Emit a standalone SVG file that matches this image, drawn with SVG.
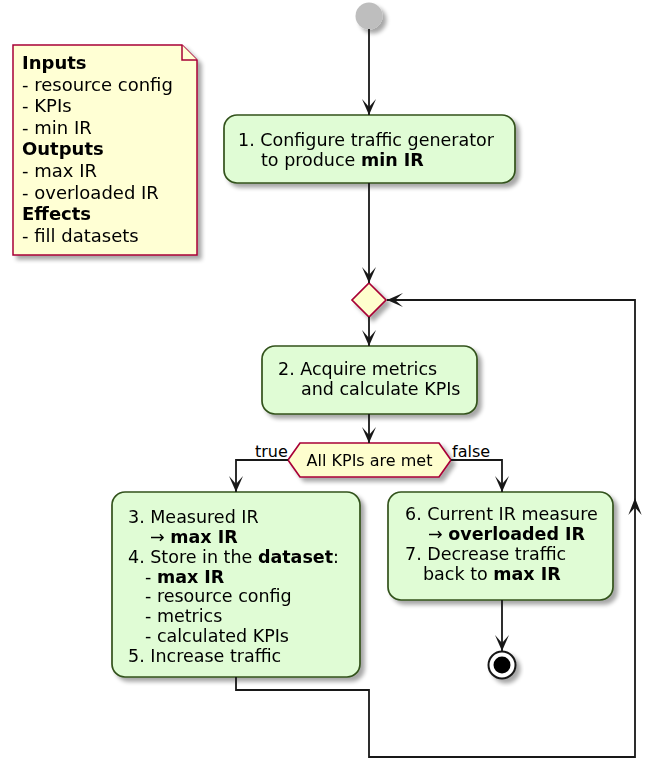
<svg xmlns="http://www.w3.org/2000/svg" width="656" height="762" viewBox="0 0 656 762">
<style>
text{font-family:"DejaVu Sans","Liberation Sans",sans-serif;fill:#000}
.t{font-size:17.5px}
.n{font-size:18px}
.s{font-size:16px}
.b{font-weight:bold}
.act{fill:#E0FCD5;stroke:#33521C;stroke-width:1.7}
.dia{fill:#FEFECE;stroke:#A80036;stroke-width:1.7}
.note{fill:#FFFFD4;stroke:#A80036;stroke-width:1.5}
.ln{fill:none;stroke:#181818;stroke-width:1.8}
</style>
<defs>
<filter id="sh" x="-20%" y="-20%" width="150%" height="150%">
<feGaussianBlur in="SourceAlpha" stdDeviation="2"/>
<feOffset dx="4" dy="4" result="o"/>
<feComponentTransfer><feFuncA type="linear" slope="0.35"/></feComponentTransfer>
<feMerge><feMergeNode/><feMergeNode in="SourceGraphic"/></feMerge>
</filter>
<marker id="ah" viewBox="-17 -9 19 18" refX="0" refY="0" markerWidth="19" markerHeight="18" markerUnits="userSpaceOnUse" orient="auto">
<path d="M0,0 L-16,-7 L-8,0 L-16,7 Z" fill="#181818"/>
</marker>
</defs>

<g id="note" filter="url(#sh)">
<path class="note" d="M13,45 L182,45 L197,60 L197,255 L13,255 Z"/>
<path class="note" d="M182,45 L182,60 L197,60" fill="none"/>
<text class="n b" x="22" y="69">Inputs</text>
<text class="n" x="22" y="90.6">- resource config</text>
<text class="n" x="22" y="112.2">- KPIs</text>
<text class="n" x="22" y="133.8">- min IR</text>
<text class="n b" x="22" y="155.4">Outputs</text>
<text class="n" x="22" y="177">- max IR</text>
<text class="n" x="22" y="198.6">- overloaded IR</text>
<text class="n b" x="22" y="220.2">Effects</text>
<text class="n" x="22" y="241.8">- fill datasets</text>
</g>

<g id="start" filter="url(#sh)">
<circle cx="369" cy="16" r="13.5" fill="#BEBEBE"/>
</g>

<g id="step1" filter="url(#sh)">
<rect class="act" x="224" y="115" width="291" height="68" rx="13"/>
<text class="t" x="238" y="146">1. Configure traffic generator</text>
<text class="t" x="261" y="166">to produce <tspan class="b">min IR</tspan></text>
</g>

<g id="merge" filter="url(#sh)">
<polygon class="dia" points="369,283 386,300 369,317 352,300"/>
</g>

<g id="step2" filter="url(#sh)">
<rect class="act" x="262" y="346" width="215" height="68" rx="13"/>
<text class="t" x="278" y="375">2. Acquire metrics</text>
<text class="t" x="301" y="395">and calculate KPIs</text>
</g>

<g id="decision" filter="url(#sh)">
<polygon class="dia" points="288,460 300,443 439,443 451,460 439,477 300,477"/>
<text class="s" x="369.5" y="466" text-anchor="middle">All KPIs are met</text>
</g>

<g id="step3" filter="url(#sh)">
<rect class="act" x="112" y="492" width="248" height="185" rx="13"/>
<text class="t" x="128" y="523">3. Measured IR</text>
<text class="t" x="150" y="543">→ <tspan class="b">max IR</tspan></text>
<text class="t" x="128" y="563">4. Store in the <tspan class="b">dataset</tspan>:</text>
<text class="t" x="145" y="582.5">- <tspan class="b">max IR</tspan></text>
<text class="t" x="145" y="602">- resource config</text>
<text class="t" x="145" y="622">- metrics</text>
<text class="t" x="145" y="642">- calculated KPIs</text>
<text class="t" x="128" y="662">5. Increase traffic</text>
</g>

<g id="step6" filter="url(#sh)">
<rect class="act" x="388" y="492" width="225" height="108" rx="13"/>
<text class="t" x="405" y="520">6. Current IR measure</text>
<text class="t" x="428" y="540">→ <tspan class="b">overloaded IR</tspan></text>
<text class="t" x="405" y="560">7. Decrease traffic</text>
<text class="t" x="423" y="580">back to <tspan class="b">max IR</tspan></text>
</g>

<g id="end" filter="url(#sh)">
<circle cx="502" cy="665" r="13.5" fill="#fff" stroke="#181818" stroke-width="2"/>
<circle cx="502" cy="665" r="8.5" fill="#000"/>
</g>

<g id="connectors">
<line class="ln" x1="369" y1="29" x2="369" y2="115" marker-end="url(#ah)"/>
<line class="ln" x1="369" y1="183" x2="369" y2="283" marker-end="url(#ah)"/>
<line class="ln" x1="369" y1="317" x2="369" y2="346" marker-end="url(#ah)"/>
<line class="ln" x1="369" y1="414" x2="369" y2="443" marker-end="url(#ah)"/>
<polyline class="ln" points="288,460 236,460 236,492" marker-end="url(#ah)"/>
<polyline class="ln" points="451,460 502,460 502,492" marker-end="url(#ah)"/>
<line class="ln" x1="502" y1="600" x2="502" y2="651" marker-end="url(#ah)"/>
<polyline class="ln" points="236,677 236,690 369,690 369,757 635,757 635,300 387,300" marker-end="url(#ah)"/>
<path d="M635,498 L628.3,515 L635,507.5 L641.7,515 Z" fill="#181818"/>
<text class="s" x="255" y="457">true</text>
<text class="s" x="452" y="457">false</text>
</g>
</svg>
